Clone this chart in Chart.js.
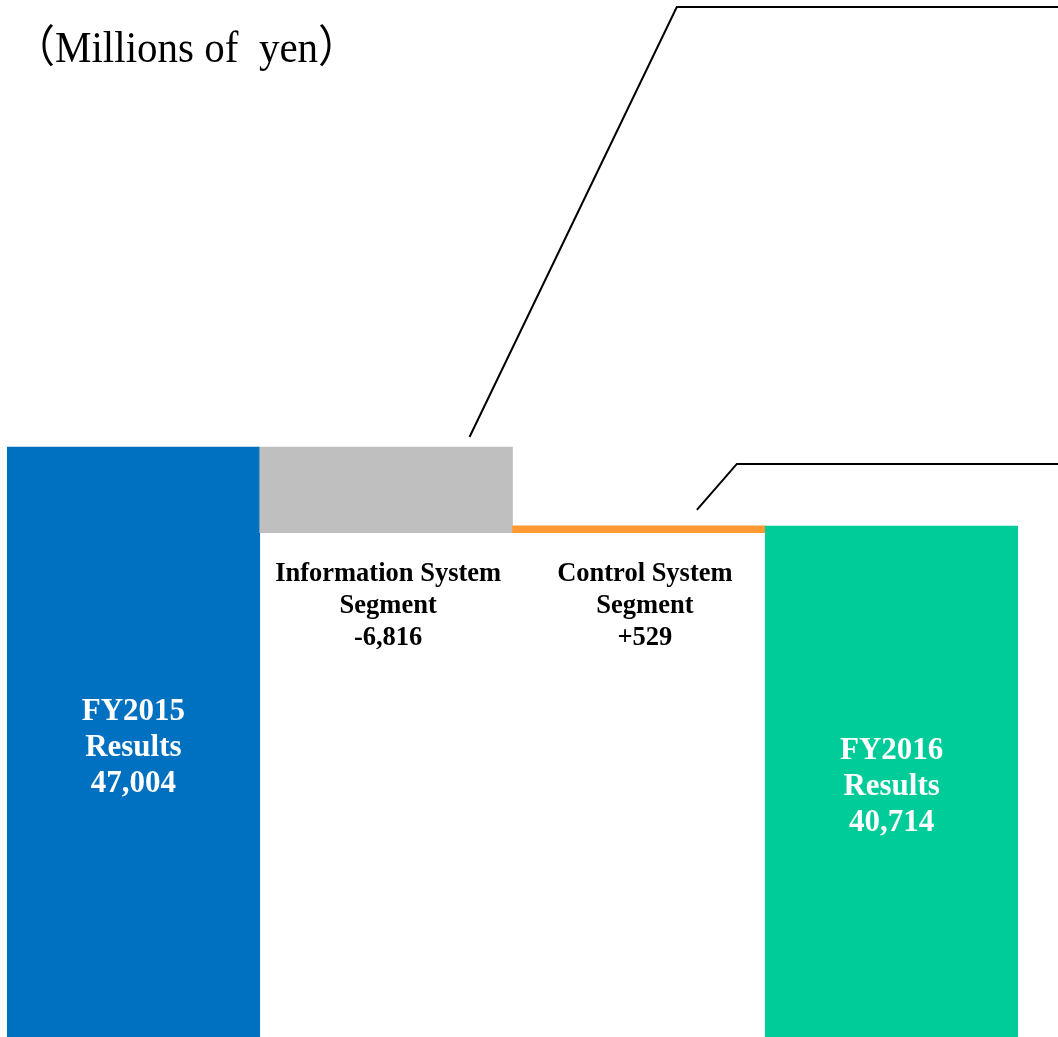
<!DOCTYPE html>
<html>
<head>
<meta charset="utf-8">
<script src="https://cdn.jsdelivr.net/npm/chart.js@4/dist/chart.umd.min.js"></script>
<style>
  html, body { margin: 0; padding: 0; background: #fff; }
  #wrap { position: relative; width: 1058px; height: 1037px; }
</style>
</head>
<body>
<div id="wrap"><canvas id="chart"></canvas></div>
<script>
// Data (millions of yen)
const categories = ['FY2015 Results', 'Information System Segment', 'Control System Segment', 'FY2016 Results']
const startValue = 47004
const changes = [-6816, 529]
const endValue = 40714
const labelLines = [
  ['FY2015', 'Results', '47,004'],
  ['Information System', 'Segment', '-6,816'],
  ['Control System', 'Segment', '+529'],
  ['FY2016', 'Results', '40,714']
]
const barColors = ['#0070C0', '#BFBFBF', '#FF9933', '#00CC99']
const unitLabel = '（Millions of  yen）'

// Build floating ranges for the waterfall
const ranges = [[0, startValue]]
let running = startValue
changes.forEach(c => {
  const next = running + c
  ranges.push([Math.min(running, next), Math.max(running, next)])
  running = next
})
ranges.push([0, endValue])

const serif = '"Liberation Serif", "DejaVu Serif", serif'
// small nudges so the text boxes sit like in the original slide
const labelShiftX = [0, 2, 6, 0]

const labelPlugin = {
  id: 'waterfallLabels',
  afterDatasetsDraw(chart) {
    const ctx = chart.ctx
    const meta = chart.getDatasetMeta(0)
    const y = chart.scales.y
    ctx.save()
    ctx.textAlign = 'center'
    ctx.textBaseline = 'middle'

    meta.data.forEach((bar, i) => {
      const lines = labelLines[i]
      const cx = bar.x + labelShiftX[i]
      const isTotal = i === 0 || i === meta.data.length - 1
      if (isTotal) {
        ctx.fillStyle = '#ffffff'
        ctx.font = 'bold 31px ' + serif
        const top = bar.y
        const bottom = y.getPixelForValue(0)
        const mid = (top + bottom) / 2 + 6
        const lh = 36
        lines.forEach((t, k) => {
          ctx.fillText(t, cx, mid + (k - 1) * lh)
        })
      } else {
        ctx.fillStyle = '#000000'
        ctx.font = 'bold 26.5px ' + serif
        const lowest = Math.min(...ranges.slice(1, -1).map(r => r[0]))
        const base = y.getPixelForValue(lowest) + 42
        lines.forEach((t, k) => {
          ctx.fillText(t, cx, base + k * 32)
        })
      }
    })

    // callout leader lines
    const w = chart.width
    ctx.strokeStyle = '#000000'
    ctx.lineWidth = 2
    const gray = meta.data[1]
    const orange = meta.data[2]
    const gw = gray.width
    ctx.beginPath()
    ctx.moveTo(gray.x + gw * 0.33, gray.y - 10)
    ctx.lineTo(gray.x + gw * 1.15, 7)
    ctx.lineTo(w, 7)
    ctx.stroke()
    ctx.beginPath()
    ctx.moveTo(orange.x + 58, orange.y - 16)
    ctx.lineTo(orange.x + 98, orange.y - 62)
    ctx.lineTo(w, orange.y - 62)
    ctx.stroke()

    // unit label (slightly condensed look of the original)
    ctx.textAlign = 'left'
    ctx.textBaseline = 'alphabetic'
    ctx.fillStyle = '#000000'
    ctx.font = '41px ' + serif + ', "Noto Sans CJK JP"'
    ctx.translate(14, 62)
    ctx.scale(1, 1.08)
    ctx.fillText(unitLabel, 0, 0)
    ctx.restore()
  }
}

new Chart(document.getElementById('chart'), {
  type: 'bar',
  data: {
    labels: categories,
    datasets: [{
      data: ranges,
      backgroundColor: barColors,
      borderWidth: 0,
      barPercentage: 1,
      categoryPercentage: 1
    }]
  },
  options: {
    responsive: true,
    maintainAspectRatio: false,
    animation: false,
    layout: { padding: { left: 7, right: 40, top: 0, bottom: 0 } },
    plugins: {
      legend: { display: false },
      tooltip: { enabled: false }
    },
    scales: {
      x: { display: false },
      y: { display: false, min: 0, max: 82617 }
    }
  },
  plugins: [labelPlugin]
})
</script>
</body>
</html>
